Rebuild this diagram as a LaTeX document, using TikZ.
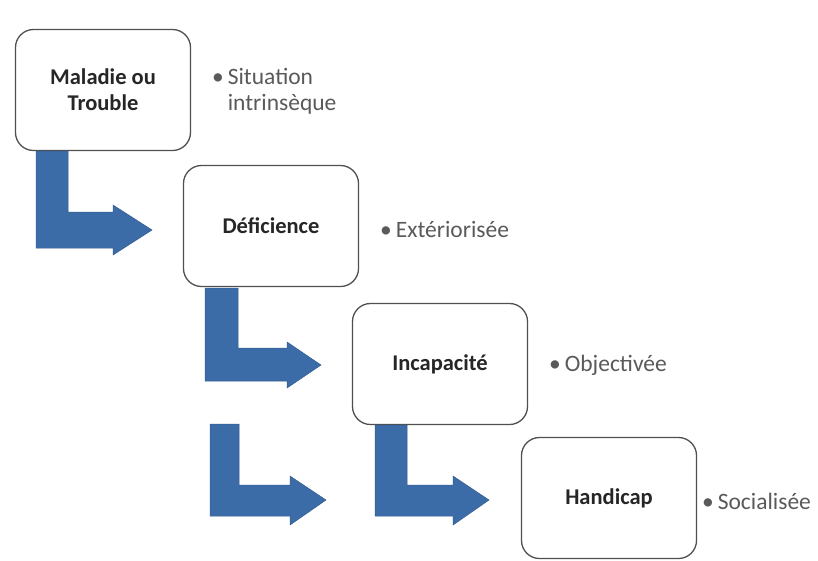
\documentclass[tikz,border=0pt]{standalone}
\usepackage{fontspec}
\setmainfont{Carlito}
\definecolor{arrowblue}{RGB}{60,108,168}
\definecolor{boxline}{RGB}{80,80,80}
\definecolor{labelgray}{RGB}{90,90,90}
\begin{document}
\begin{tikzpicture}[x=1pt,y=-1pt,
  stagebox/.style={draw=boxline,line width=1.3pt,rounded corners=18pt,fill=white,
    minimum width=175pt,minimum height=121pt,align=center,
    font=\fontsize{22.5}{26}\selectfont\bfseries,text=black!85},
  sidelabel/.style={anchor=west,align=left,text=labelgray,inner sep=0pt,
    font=\fontsize{23.5}{26}\selectfont},
  bentarrow/.style={fill=arrowblue,draw=arrowblue!85!black,line width=0.5pt}]
\useasboundingbox (0,0) rectangle (818,560);
\fill[white] (0,0) rectangle (818,560);

\node[stagebox] (b1) at (103,90) {Maladie ou\\Trouble};
\node[stagebox] (b2) at (271,226) {Déficience};
\node[stagebox] (b3) at (440,364) {Incapacité};
\node[stagebox] (b4) at (609,498) {Handicap};

\node[sidelabel] (l1) at (212,91) {\textbullet\,Situation\\\phantom{\textbullet\,}intrinsèque};
\node[sidelabel] (l2) at (380,229) {\textbullet\,Extériorisée};
\node[sidelabel] (l3) at (549,365) {\textbullet\,Objectivée};
\node[sidelabel] (l4) at (702,501) {\textbullet\,Socialisée};

% bent arrows
\draw[bentarrow] (36,151) -- (68,151) -- (68,212) -- (113,212) -- (113,205) -- (152,230)
  -- (113,255) -- (113,248) -- (36,248) -- cycle;
\draw[bentarrow] (205,288) -- (238,288) -- (238,348) -- (287,348) -- (287,342) -- (321,365)
  -- (287,388) -- (287,381) -- (205,381) -- cycle;
\draw[bentarrow] (210,424) -- (239,424) -- (239,485) -- (290,485) -- (290,476) -- (326,500)
  -- (290,525) -- (290,516) -- (210,516) -- cycle;
\draw[bentarrow] (375,425) -- (407,425) -- (407,485) -- (453,485) -- (453,476) -- (489,500)
  -- (453,525) -- (453,516) -- (375,516) -- cycle;
\end{tikzpicture}
\end{document}
